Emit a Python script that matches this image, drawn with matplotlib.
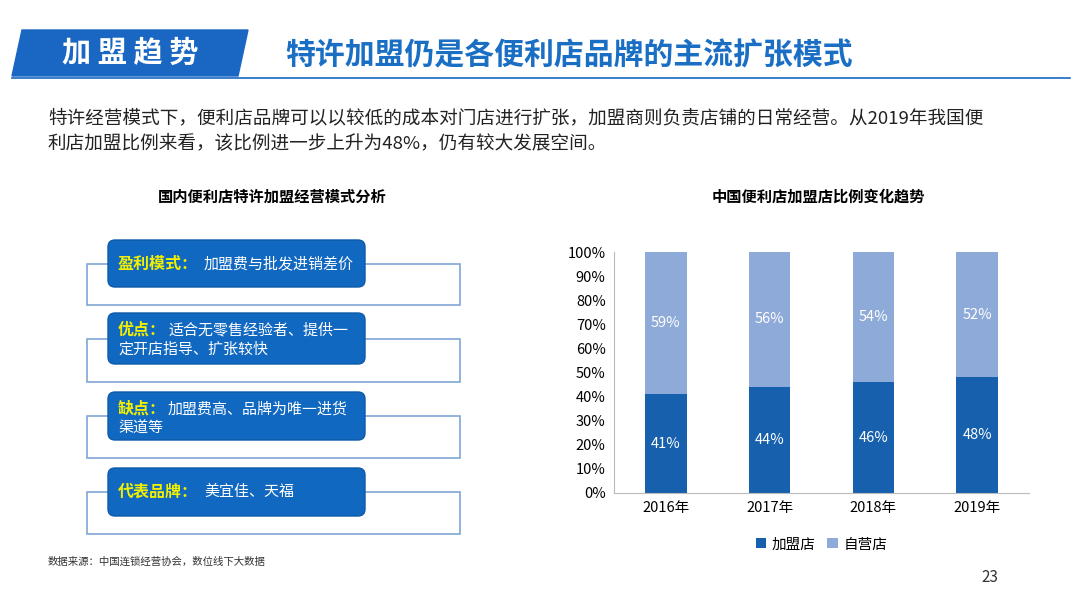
import matplotlib
matplotlib.use("Agg")
import matplotlib.pyplot as plt
from matplotlib.patches import FancyBboxPatch, Polygon, Rectangle

plt.rcParams["font.family"] = ["Noto Sans CJK SC"]

years = ["2016年", "2017年", "2018年", "2019年"]
franchise = [41, 44, 46, 48]
selfrun = [59, 56, 54, 52]
yticks = [0, 10, 20, 30, 40, 50, 60, 70, 80, 90, 100]
box_heads = ["盈利模式：", "优点：", "缺点：", "代表品牌："]
box_texts = ["加盟费与批发进销差价", "适合无零售经验者、提供一\n定开店指导、扩张较快",
             "加盟费高、品牌为唯一进货\n渠道等", "美宜佳、天福"]

W, H = 1080, 607
fig = plt.figure(figsize=(W/100, H/100), dpi=100)
ov = fig.add_axes([0, 0, 1, 1])
ov.set_xlim(0, W); ov.set_ylim(H, 0); ov.axis("off")

DARK = "#1660ad"; LIGHT = "#8eaad8"; TBLUE = "#1a6fc4"

# header
ov.add_patch(Polygon([(22, 30), (248, 30), (238, 76), (12, 76)], closed=True, color="#1967c2"))
ov.text(130, 53, "加 盟 趋 势", color="white", fontsize=21, fontweight="bold", ha="center", va="center")
ov.text(285, 55, "特许加盟仍是各便利店品牌的主流扩张模式", color=TBLUE, fontsize=21.5, fontweight="bold", va="center")
ov.plot([12, 1070], [78, 78], color="#1967c2", lw=1.2)
ov.text(48, 131, "特许经营模式下，便利店品牌可以以较低的成本对门店进行扩张，加盟商则负责店铺的日常经营。从2019年我国便\n利店加盟比例来看，该比例进一步上升为48%，仍有较大发展空间。",
        fontsize=13.4, va="center", linespacing=1.5, color="#222222")
ov.text(272, 197, "国内便利店特许加盟经营模式分析", fontsize=11, fontweight="bold", ha="center", va="center")
ov.text(818, 197, "中国便利店加盟店比例变化趋势", fontsize=11, fontweight="bold", ha="center", va="center")

boxes = [(240, 287), (313, 364), (392, 440), (468, 516)]
for (t, b), head, txt in zip(boxes, box_heads, box_texts):
    mid = (t + b) / 2
    ov.add_patch(Rectangle((87, mid), 373, b + 18 - mid, fill=False, ec="#7fa6d6", lw=1.2))
    ov.add_patch(FancyBboxPatch((108, t), 257, b - t, boxstyle="round,pad=0,rounding_size=7",
                                fc="#1168c0", ec="#0e5aa8", lw=1, zorder=3))
    ty = t + 17 if "\n" in txt else mid
    hd = ov.text(118, ty, head, color="#f2f000", fontsize=11.5, fontweight="bold", va="center", zorder=4)
    fig.canvas.draw()
    bb = hd.get_window_extent()
    x2 = bb.x1
    if "\n" in txt:
        l1, l2 = txt.split("\n")
        ov.text(x2 + 2, ty, l1, color="white", fontsize=10.8, va="center", zorder=4)
        ov.text(118, ty + 20, l2, color="white", fontsize=10.8, va="center", zorder=4)
    else:
        ov.text(x2 + 6, ty, txt, color="white", fontsize=10.8, va="center", zorder=4)

ov.text(48, 562, "数据来源：中国连锁经营协会，数位线下大数据", fontsize=7.5, va="center", color="#333333")
ov.text(990, 578, "23", fontsize=11, ha="center", va="center", color="#333333")

# bar chart
ax = fig.add_axes([614/W, 1 - 493/H, 415/W, 241/H])
x = range(len(years))
ax.bar(x, franchise, width=0.4, color=DARK, label="加盟店")
ax.bar(x, selfrun, width=0.4, bottom=franchise, color=LIGHT, label="自营店")
for i in x:
    ax.text(i, franchise[i] / 2, f"{franchise[i]}%", color="white", ha="center", va="center", fontsize=10.5)
    ax.text(i, franchise[i] + selfrun[i] / 2, f"{selfrun[i]}%", color="white", ha="center", va="center", fontsize=10.5)
ax.set_xlim(-0.5, 3.5); ax.set_ylim(0, 100)
ax.set_yticks(yticks); ax.set_yticklabels([f"{v}%" for v in yticks], fontsize=10.5)
ax.set_xticks(list(x)); ax.set_xticklabels(years, fontsize=10.5)
for s in ["top", "right"]:
    ax.spines[s].set_visible(False)
ax.spines["left"].set_color("#bbbbbb"); ax.spines["bottom"].set_color("#bbbbbb")
ax.tick_params(length=0, pad=6)
ax.legend(loc="upper center", bbox_to_anchor=(0.5, -0.13), ncol=2, frameon=False, fontsize=10.5,
          handlelength=0.7, handleheight=0.7, columnspacing=0.8, handletextpad=0.4)

fig.savefig("out.png", dpi=100)
